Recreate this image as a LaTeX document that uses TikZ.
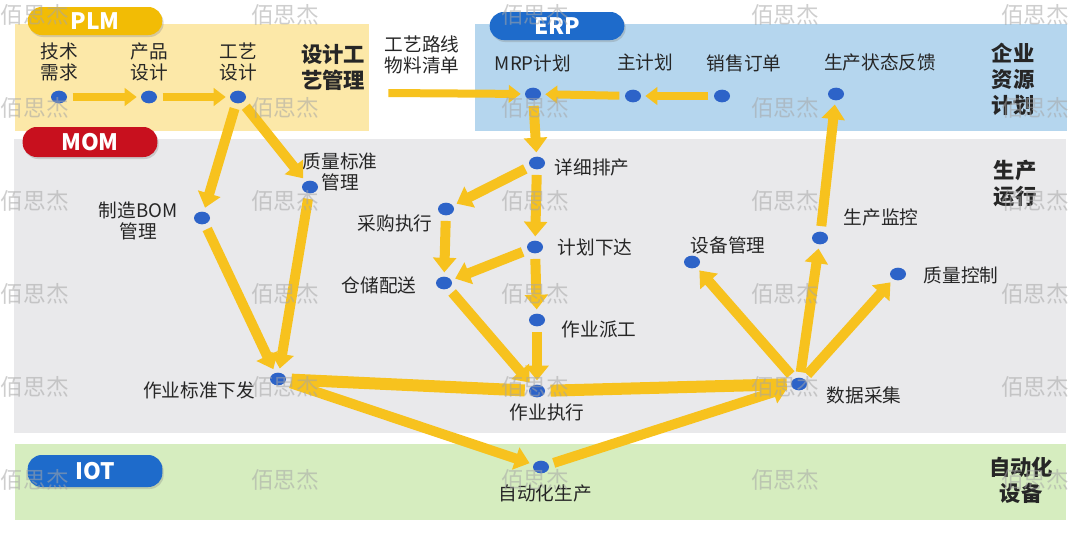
\documentclass[tikz,border=0pt]{standalone}
\usepackage{fontspec}
\setmainfont{Noto Sans CJK SC}
\usetikzlibrary{shapes.geometric}
\usetikzlibrary{arrows.meta}
\usetikzlibrary{positioning}
\usetikzlibrary{shadows}
\definecolor{plmband}{HTML}{FCE8A8}
\definecolor{erpband}{HTML}{B5D6EE}
\definecolor{momband}{HTML}{E9E9EB}
\definecolor{iotband}{HTML}{D6EDBF}
\definecolor{plmpill}{HTML}{F2BC05}
\definecolor{mompill}{HTML}{C8101E}
\definecolor{bluepill}{HTML}{1E6BCB}
\definecolor{dotblue}{HTML}{2D63C8}
\definecolor{flow}{HTML}{F7C21E}
\tikzset{
    dot/.style={
        ellipse,
        fill=dotblue,
        minimum width=12pt,
        minimum height=9.5pt,
        inner sep=0pt},
    lbl/.style={
        font=\fontsize{14}{16}\selectfont,
        align=center,
        inner sep=1pt,
        text=black!85},
    layer/.style={
        font=\fontsize{16}{19.5}\selectfont\bfseries,
        align=center,
        inner sep=1pt,
        text=black!85},
    pill/.style={
        rounded corners=10.5pt,
        minimum width=101pt,
        minimum height=21pt,
        inner sep=0pt,
        text=white,
        font=\fontsize{17}{18}\selectfont\bfseries,
        drop shadow={opacity=0.3,shadow xshift=1pt,shadow yshift=-1.5pt}},
    wmark/.style={
        font=\fontsize{17}{18}\selectfont,
        text=gray!70,
        opacity=0.55,
        inner sep=0pt},
    thin/.style={
        line width=6pt,
        -{Triangle[width=13pt,length=9pt]}},
    every edge/.style={
        draw=flow,
        line width=7.5pt,
        -{Triangle[width=17pt,length=11pt]},
        shorten <=4pt,
        shorten >=3pt}}

\begin{document}
\begin{tikzpicture}[x=0.75pt,y=-0.75pt]
    \useasboundingbox (0,0) rectangle (1080,532);
    % layers
    \fill[plmband] (15,24) rectangle (369,131);
    \fill[erpband] (475,24) rectangle (1067,131);
    \fill[momband] (14,139) rectangle (1066,433);
    \fill[iotband] (15,444) rectangle (1066,520);

    \node[pill,fill=plmpill] (plm) at (95,21) {PLM};
    \node[pill,fill=mompill,minimum height=22.5pt] (mom) at (90,142) {MOM};
    \node[pill,fill=bluepill] (erp) at (557,26) {ERP};
    \node[pill,fill=bluepill,minimum height=24pt] (iot) at (95,471) {IOT};

    \node[layer] (plm-t) at (333,67) {设计工\\艺管理};
    \node[layer] (erp-t) at (1013,79) {企业\\资源\\计划};
    \node[layer] (mom-t) at (1015,183) {生产\\运行};
    \node[layer] (iot-t) at (1021,480) {自动化\\设备};

    % PLM
    \node[dot] (req) at (59,97) {};
    \node[dot] (prod) at (149,97) {};
    \node[dot] (proc) at (238,97) {};
    \node[lbl] (req-t) at (59,62) {技术\\需求};
    \node[lbl] (prod-t) at (149,62) {产品\\设计};
    \node[lbl] (proc-t) at (238,62) {工艺\\设计};
    \node[lbl] (route-t) at (422,55) {工艺路线\\物料清单};
    \coordinate (route) at (383,93);

    % ERP
    \node[dot] (mrp) at (533,94) {};
    \node[dot] (mps) at (633,96) {};
    \node[dot] (so) at (722,96) {};
    \node[dot] (fb) at (836,94) {};
    \node[lbl] (mrp-t) at (533,63) {MRP计划};
    \node[lbl] (mps-t) at (645,62) {主计划};
    \node[lbl] (so-t) at (744,63) {销售订单};
    \node[lbl] (fb-t) at (880,62) {生产状态反馈};

    % MOM
    \node[dot] (sched) at (537,163) {};
    \node[dot] (buy) at (446,209) {};
    \node[dot] (rel) at (535,247) {};
    \node[dot] (store) at (444,283) {};
    \node[dot] (disp) at (537,320) {};
    \node[dot] (exec) at (537,391) {};
    \node[dot] (std) at (278,379) {};
    \node[dot] (bom) at (202,218) {};
    \node[dot] (qstd) at (310,187) {};
    \node[dot] (equip) at (692,262) {};
    \node[dot] (mon) at (820,238) {};
    \node[dot] (qc) at (898,274) {};
    \node[dot] (daq) at (799,384) {};
    \node[lbl] (sched-t) at (592,167) {详细排产};
    \node[lbl] (buy-t) at (395,223) {采购执行};
    \node[lbl] (rel-t) at (595,247) {计划下达};
    \node[lbl] (store-t) at (379,285) {仓储配送};
    \node[lbl] (disp-t) at (599,329) {作业派工};
    \node[lbl] (exec-t) at (547,412) {作业执行};
    \node[lbl] (std-t) at (199,390) {作业标准下发};
    \node[lbl] (bom-t) at (138,221) {制造BOM\\管理};
    \node[lbl] (qstd-t) at (340,172) {质量标准\\管理};
    \node[lbl] (equip-t) at (728,245) {设备管理};
    \node[lbl] (mon-t) at (881,217) {生产监控};
    \node[lbl] (qc-t) at (961,275) {质量控制};
    \node[lbl] (daq-t) at (864,395) {数据采集};

    % IOT
    \node[dot] (auto) at (541,467) {};
    \node[lbl] (auto-t) at (545,493) {自动化生产};

    % flows
    \draw (req) edge[thin] (prod);
    \draw (prod) edge[thin] (proc);
    \draw (route) edge[thin] (mrp);
    \draw (mps) edge[thin] (mrp);
    \draw (so) edge[thin] (mps);
    \draw (mrp) edge (sched);
    \draw (sched) edge (buy);
    \draw (sched) edge (rel);
    \draw (buy) edge (store);
    \draw (rel) edge (store);
    \draw (rel) edge (disp);
    \draw (disp) edge (exec);
    \draw (store) edge (exec);
    \draw (proc) edge (bom);
    \draw (proc) edge (qstd);
    \draw (bom) edge (std);
    \draw (qstd) edge (std);
    \draw (std) edge[-,line width=9pt] (exec);
    \draw (exec) edge[-,line width=9pt] (daq);
    \draw (std) edge (auto);
    \draw (auto) edge (daq);
    \draw (daq) edge (equip);
    \draw (daq) edge (mon);
    \draw (daq) edge (qc);
    \draw (mon) edge (fb);

    % watermark
    \foreach \i in {35,285,...,1035}
        \foreach \j in {15,108,...,480}
            \node[wmark] (wm-\i-\j) at (\i,\j) {佰思杰};
\end{tikzpicture}
\end{document}
